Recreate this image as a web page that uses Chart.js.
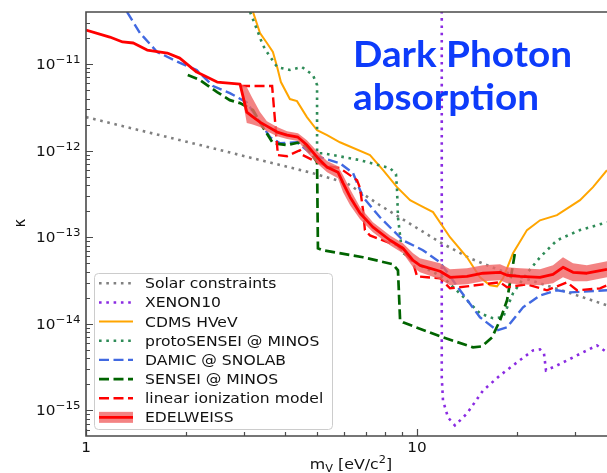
<!DOCTYPE html>
<html lang="en">
<head>
<meta charset="UTF-8">
<title>Dark Photon absorption</title>
<script src="https://cdn.jsdelivr.net/npm/chart.js"></script>
<style>
  body { margin: 0; background: #fff; }
  canvas { display: block; }
</style>
</head>
<body>
<canvas id="limitChart" width="607" height="473"></canvas>
<script>
// dark photon mass m_V [eV/c^2] and kinetic mixing kappa for each limit
var solarMass  = [1, 2.21, 4.85, 6.14, 7.73, 11.74, 14.46, 17.82, 23.53, 37.5];
var solarKappa = [2.44e-12, 1.16e-12, 5.49e-13, 4.21e-13, 2.34e-13, 8.75e-14, 5.71e-14, 4.15e-14, 2.94e-14, 1.64e-14];

var xenonMass  = [11.88, 11.88, 11.98, 12.41, 13.02, 14.16, 15.83, 17.82, 20.05, 22.41, 23.53, 24.19, 24.53, 26.48, 29.6, 34.98, 37.5];
var xenonKappa = [5e-11, 2.41e-15, 1.31e-15, 8.3e-16, 6.71e-16, 9.23e-16, 1.70e-15, 2.54e-15, 3.59e-15, 4.94e-15, 5.07e-15, 4.56e-15, 2.90e-15, 3.31e-15, 4.10e-15, 5.64e-15, 4.69e-15];

var cdmsMass  = [3.195, 3.355, 3.52, 3.67, 3.78, 3.88, 4.13, 4.34, 4.65, 4.99, 5.35, 5.85, 7.21, 7.90, 8.70, 9.53, 10.21, 11.18, 12.58, 14.16, 15.50, 16.62, 17.45, 18.19, 19.50, 21.49, 23.53, 26.48, 31.08, 34.02, 37.5];
var cdmsKappa = [4.0e-11, 2.28e-11, 1.75e-11, 1.38e-11, 9.23e-12, 6.19e-12, 3.94e-12, 3.73e-12, 2.44e-12, 1.72e-12, 1.51e-12, 1.25e-12, 8.87e-13, 5.95e-13, 3.79e-13, 2.68e-13, 2.34e-13, 1.95e-13, 1.0e-13, 5.87e-14, 3.45e-14, 2.79e-14, 2.71e-14, 3.36e-14, 6.53e-14, 1.21e-13, 1.57e-13, 1.80e-13, 2.68e-13, 3.79e-13, 5.95e-13];

var protoMass  = [3.13, 3.29, 3.42, 3.52, 3.78, 4.13, 4.49, 4.85, 4.99, 4.99, 5.20, 6.73, 8.29, 8.64, 8.70, 8.76, 9.01, 10.21, 11.98, 14.16, 15.50, 16.97, 18.19, 19.50, 21.49, 23.53, 26.48, 31.08, 37.5];
var protoKappa = [4.0e-11, 2.47e-11, 1.66e-11, 1.38e-11, 9.23e-12, 8.53e-12, 9.23e-12, 7.46e-12, 5.72e-12, 9.35e-13, 9.35e-13, 7.76e-13, 6.28e-13, 5.35e-13, 3.68e-13, 1.70e-13, 6.71e-14, 4.74e-14, 3.45e-14, 1.87e-14, 1.32e-14, 1.16e-14, 1.19e-14, 2.25e-14, 3.84e-14, 5.87e-14, 9.23e-14, 1.21e-13, 1.49e-13];

var damicMass  = [1.33, 1.456, 1.64, 1.923, 2.16, 2.42, 2.72, 3.06, 3.29, 3.60, 3.856, 4.34, 4.85, 5.85, 6.41, 6.87, 7.73, 9.07, 10.42, 11.74, 13.49, 15.50, 17.45, 18.71, 20.91, 23.53, 26.48, 29.0, 37.5];
var damicKappa = [4.0e-11, 2.28e-11, 1.38e-11, 1.03e-11, 8.53e-12, 5.57e-12, 4.62e-12, 3.60e-12, 2.38e-12, 1.43e-12, 1.22e-12, 1.25e-12, 8.87e-13, 7.16e-13, 5.49e-13, 2.90e-13, 1.70e-13, 9.23e-14, 7.08e-14, 5.14e-14, 2.44e-14, 1.19e-14, 8.41e-15, 9.12e-15, 1.55e-14, 2.13e-14, 2.44e-14, 2.31e-14, 2.44e-14];

var senseiMass  = [2.03, 2.21, 2.49, 2.72, 2.92, 3.195, 3.42, 3.67, 4.05, 4.43, 4.65, 4.99, 5.02, 5.20, 6.87, 8.46, 8.76, 8.89, 9.07, 11.98, 14.77, 15.72, 16.85, 17.82, 18.71, 19.78];
var senseiKappa = [7.46e-12, 6.53e-12, 4.74e-12, 3.83e-12, 3.54e-12, 2.94e-12, 1.87e-12, 1.22e-12, 1.16e-12, 1.25e-12, 1.10e-12, 7.36e-13, 7.46e-14, 7.08e-14, 5.87e-14, 4.88e-14, 4.15e-14, 1.10e-14, 1.04e-14, 6.98e-15, 5.35e-15, 5.49e-15, 6.98e-15, 1.10e-14, 1.87e-14, 6.71e-14];

var linearMass  = [2.92, 3.65, 3.80, 4.05, 4.43, 4.52, 4.85, 5.35, 5.85, 6.59, 6.73, 6.87, 6.96, 7.21, 8.29, 8.70, 9.73, 10.0, 10.72, 11.74, 12.58, 14.16, 15.83, 17.82, 18.71, 21.49, 24.70, 28.4, 30.44, 35.72, 37.5];
var linearKappa = [5.57e-12, 5.57e-12, 8.87e-13, 8.63e-13, 1.01e-12, 8.87e-13, 7.76e-13, 6.62e-13, 6.28e-13, 4.56e-13, 3.68e-13, 2.05e-13, 1.21e-13, 1.05e-13, 8.53e-14, 8.09e-14, 5.14e-14, 3.54e-14, 3.45e-14, 3.36e-14, 2.57e-14, 2.71e-14, 2.86e-14, 3.02e-14, 2.65e-14, 2.86e-14, 2.44e-14, 3.02e-14, 2.44e-14, 2.57e-14, 2.79e-14];

// EDELWEISS limit with its uncertainty band
var edwMass  = [1.0, 1.18, 1.29, 1.39, 1.53, 1.76, 1.92, 2.16, 2.49, 2.92, 3.06, 3.17, 3.355, 3.52, 3.78, 4.05, 4.37, 4.65, 4.99, 5.35, 5.77, 5.98, 6.28, 6.73, 7.36, 8.29, 9.07, 9.73, 10.21, 11.74, 12.58, 14.16, 15.83, 17.82, 18.71, 20.48, 23.53, 25.76, 27.61, 29.6, 32.6, 37.5];
var edwKappa = [2.47e-11, 2.05e-11, 1.80e-11, 1.75e-11, 1.45e-11, 1.34e-11, 1.17e-11, 8.08e-12, 6.19e-12, 5.87e-12, 2.79e-12, 2.51e-12, 2.13e-12, 1.92e-12, 1.64e-12, 1.51e-12, 1.43e-12, 1.16e-12, 8.41e-13, 6.45e-13, 5.64e-13, 4.21e-13, 2.90e-13, 1.89e-13, 1.31e-13, 9.23e-14, 7.46e-14, 5.42e-14, 4.74e-14, 4.05e-14, 3.45e-14, 3.54e-14, 3.84e-14, 3.94e-14, 3.64e-14, 3.54e-14, 3.45e-14, 3.73e-14, 4.50e-14, 3.94e-14, 3.84e-14, 4.27e-14];
var edwHigh  = [2.47e-11, 2.05e-11, 1.80e-11, 1.75e-11, 1.45e-11, 1.34e-11, 1.17e-11, 8.08e-12, 6.19e-12, 5.87e-12, 5.42e-12, 4.15e-12, 2.79e-12, 2.19e-12, 1.87e-12, 1.68e-12, 1.59e-12, 1.32e-12, 9.86e-13, 7.57e-13, 6.62e-13, 5.21e-13, 3.59e-13, 2.22e-13, 1.49e-13, 1.05e-13, 8.53e-14, 6.53e-14, 5.71e-14, 5.00e-14, 4.27e-14, 4.38e-14, 4.74e-14, 4.88e-14, 4.50e-14, 4.38e-14, 4.27e-14, 4.74e-14, 5.87e-14, 5.00e-14, 4.74e-14, 5.28e-14];
var edwLow   = [2.47e-11, 2.05e-11, 1.80e-11, 1.75e-11, 1.45e-11, 1.34e-11, 1.17e-11, 8.08e-12, 6.19e-12, 5.72e-12, 2.08e-12, 2.02e-12, 1.87e-12, 1.68e-12, 1.47e-12, 1.36e-12, 1.29e-12, 9.61e-13, 7.16e-13, 5.64e-13, 4.81e-13, 3.31e-13, 2.34e-13, 1.61e-13, 1.14e-13, 8.09e-14, 6.53e-14, 4.50e-14, 3.94e-14, 3.27e-14, 2.79e-14, 2.86e-14, 3.10e-14, 3.18e-14, 2.94e-14, 2.86e-14, 2.79e-14, 2.94e-14, 3.45e-14, 3.10e-14, 3.10e-14, 3.45e-14];

var massRange  = [1, 37.5];
var kappaRange = [5.07e-16, 3.99e-11];
var massLabels  = [1, 10];
var kappaLabels = [-15, -14, -13, -12, -11];

var FONT = '"DejaVu Sans", sans-serif';
var STRETCH = 1.13;   // text runs a little wide in this figure
var bandColor = 'rgba(240, 100, 100, 0.8)';

function pts(xs, ys) {
  return xs.map(function (x, i) { return { x: x, y: ys[i] }; });
}

function curve(label, xs, ys, color, width, dash, order) {
  return {
    label: label, data: pts(xs, ys), borderColor: color, borderWidth: width,
    borderDash: dash, pointRadius: 0, fill: false, tension: 0, order: order, clip: 0
  };
}

var dotted = [2.6, 4.7];
var dashed = [10, 4.5];

var datasets = [
  curve('Solar constraints', solarMass, solarKappa, '#808080', 2.6, dotted, 9),
  curve('XENON10', xenonMass, xenonKappa, '#8a2be2', 2.6, dotted, 8),
  curve('CDMS HVeV', cdmsMass, cdmsKappa, '#ffa500', 2, [], 7),
  curve('protoSENSEI @ MINOS', protoMass, protoKappa, '#2e8b57', 2.6, dotted, 6),
  curve('DAMIC @ SNOLAB', damicMass, damicKappa, '#4169e1', 2.4, dashed, 5),
  curve('SENSEI @ MINOS', senseiMass, senseiKappa, '#006400', 2.7, dashed, 4),
  curve('linear ionization model', linearMass, linearKappa, '#ff0000', 2.4, dashed, 3),
  curve('EDELWEISS', edwMass, edwKappa, '#ff0000', 2.8, [], 0)
];
datasets[7].band = true;
datasets[7].borderJoinStyle = 'round';

var bandHigh = curve('', edwMass, edwHigh, bandColor, 0, [], 1);
bandHigh.fill = '+1';
bandHigh.backgroundColor = bandColor;
bandHigh.inLegend = false;
var bandLow = curve('', edwMass, edwLow, bandColor, 0, [], 2);
bandLow.inLegend = false;
datasets.push(bandHigh, bandLow);

// draws text stretched horizontally, returns its drawn width
function wideText(ctx, text, x, y, align) {
  var w = ctx.measureText(text).width * STRETCH;
  var left = align === 'right' ? x - w : (align === 'center' ? x - w / 2 : x);
  ctx.save();
  ctx.translate(left, y);
  ctx.scale(STRETCH, 1);
  ctx.textAlign = 'left';
  ctx.fillText(text, 0, 0);
  ctx.restore();
  return w;
}

function textWidth(ctx, font, text) {
  ctx.font = font;
  return ctx.measureText(text).width * STRETCH;
}

function powerLabel(ctx, exp, x, y, align) {
  var base = '10', sup = '\u2212' + Math.abs(exp);
  var bFont = '13.5px ' + FONT, sFont = '10.5px ' + FONT;
  var total = textWidth(ctx, bFont, base) + textWidth(ctx, sFont, sup);
  var left = align === 'right' ? x - total : x - total / 2;
  ctx.font = bFont;
  var bw = wideText(ctx, base, left, y + 5, 'left');
  ctx.font = sFont;
  wideText(ctx, sup, left + bw, y - 1, 'left');
}

function drawLegend(chart) {
  var ctx = chart.ctx;
  var bx = 94.5, by = 273.5, bw = 238, bh = 156, r = 4;
  ctx.save();
  ctx.beginPath();
  ctx.moveTo(bx + r, by);
  ctx.arcTo(bx + bw, by, bx + bw, by + bh, r);
  ctx.arcTo(bx + bw, by + bh, bx, by + bh, r);
  ctx.arcTo(bx, by + bh, bx, by, r);
  ctx.arcTo(bx, by, bx + bw, by, r);
  ctx.closePath();
  ctx.fillStyle = 'rgba(255,255,255,0.8)';
  ctx.fill();
  ctx.strokeStyle = '#cccccc';
  ctx.lineWidth = 1;
  ctx.stroke();

  var items = chart.data.datasets.filter(function (d) { return d.inLegend !== false; });
  items.forEach(function (d, i) {
    var y = 283.3 + i * 19.15;
    if (d.band) {
      ctx.fillStyle = bandColor;
      ctx.fillRect(99, y - 5.5, 34, 11);
    }
    ctx.beginPath();
    ctx.setLineDash(d.borderDash);
    ctx.strokeStyle = d.borderColor;
    ctx.lineWidth = d.borderWidth;
    ctx.moveTo(99, y);
    ctx.lineTo(133, y);
    ctx.stroke();
    ctx.setLineDash([]);
    ctx.fillStyle = '#111';
    ctx.font = '13.8px ' + FONT;
    wideText(ctx, d.label, 145, y + 5, 'left');
  });
  ctx.restore();
}

function drawAxes(chart) {
  var ctx = chart.ctx, a = chart.chartArea;
  var xs = chart.scales.x, ys = chart.scales.y;
  ctx.save();
  ctx.strokeStyle = '#4a4a4a';
  ctx.lineWidth = 1.6;
  ctx.beginPath();
  ctx.moveTo(a.right, a.top);
  ctx.lineTo(a.left, a.top);
  ctx.lineTo(a.left, a.bottom);
  ctx.lineTo(a.right, a.bottom);
  ctx.stroke();

  // inward ticks, majors at decades and minors at 2..9
  ctx.lineWidth = 1.2;
  ctx.beginPath();
  for (var e = 0; e <= 1; e++) {
    for (var m = 1; m <= 9; m++) {
      var v = m * Math.pow(10, e);
      if (v < massRange[0] || v > massRange[1]) continue;
      var px = Math.round(xs.getPixelForValue(v)) + 0.5;
      var len = m === 1 ? 7 : 4;
      ctx.moveTo(px, a.bottom);
      ctx.lineTo(px, a.bottom - len);
    }
  }
  for (var ey = -16; ey <= -11; ey++) {
    for (var k = 1; k <= 9; k++) {
      var val = k * Math.pow(10, ey);
      if (val < kappaRange[0] || val > kappaRange[1]) continue;
      var py = Math.round(ys.getPixelForValue(val)) + 0.5;
      var l = k === 1 ? 7 : 4;
      ctx.moveTo(a.left, py);
      ctx.lineTo(a.left + l, py);
    }
  }
  ctx.stroke();

  ctx.fillStyle = '#111';
  kappaLabels.forEach(function (p) {
    powerLabel(ctx, p, 80.5, ys.getPixelForValue(Math.pow(10, p)), 'right');
  });
  ctx.font = '13.5px ' + FONT;
  massLabels.forEach(function (v) {
    wideText(ctx, String(v), xs.getPixelForValue(v), 451.5, 'center');
  });

  // x axis title: m_V [eV/c^2]
  var big = '14px ' + FONT, small = '10px ' + FONT;
  var parts = [['m', big, 0], ['V', small, 3], [' [eV/c', big, 0], ['2', small, -6], [']', big, 0]];
  var total = 0;
  parts.forEach(function (p) { total += textWidth(ctx, p[1], p[0]); });
  var x = 351 - total / 2;
  parts.forEach(function (p) {
    ctx.font = p[1];
    x += wideText(ctx, p[0], x, 469 + p[2], 'left');
  });

  // y axis title
  ctx.save();
  ctx.translate(25, 223);
  ctx.rotate(-Math.PI / 2);
  ctx.font = '15px ' + FONT;
  ctx.textAlign = 'center';
  ctx.fillText('\u03ba', 0, 0);
  ctx.restore();
  ctx.restore();
}

function drawHeadline(chart) {
  var ctx = chart.ctx;
  ctx.save();
  ctx.font = 'bold 37px Lato, "Open Sans", sans-serif';
  ctx.fillStyle = '#0d3bfa';
  var s = 219 / ctx.measureText('Dark Photon').width;
  [['Dark Photon', 67], ['absorption', 110]].forEach(function (line) {
    ctx.save();
    ctx.translate(353, line[1]);
    ctx.scale(s, 1);
    ctx.fillText(line[0], 0, 0);
    ctx.restore();
  });
  ctx.restore();
}

var decorations = {
  id: 'decorations',
  afterDatasetsDraw: function (chart) {
    drawLegend(chart);
    drawAxes(chart);
    drawHeadline(chart);
  }
};

var chart = new Chart(document.getElementById('limitChart').getContext('2d'), {
  type: 'line',
  data: { datasets: datasets },
  options: {
    responsive: false,
    animation: false,
    devicePixelRatio: 1,
    layout: { padding: { left: 86, right: 0, top: 12, bottom: 37 } },
    plugins: { legend: { display: false }, tooltip: { enabled: false } },
    scales: {
      x: { type: 'logarithmic', min: massRange[0], max: massRange[1], display: false },
      y: { type: 'logarithmic', min: kappaRange[0], max: kappaRange[1], display: false }
    }
  },
  plugins: [decorations]
});
</script>
</body>
</html>
